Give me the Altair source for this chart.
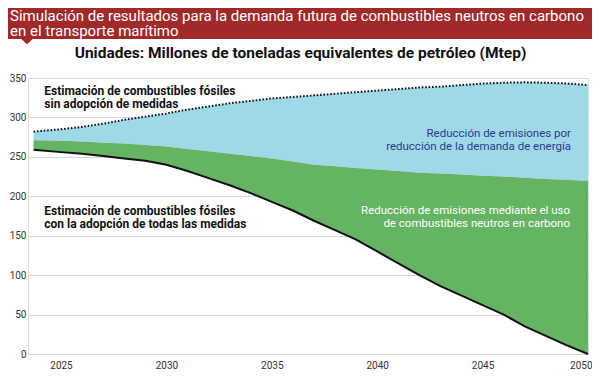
import altair as alt
import pandas as pd

# ---- data ----
years = [2023.7, 2025, 2026, 2027, 2028, 2029, 2030, 2031, 2032, 2033, 2034, 2035,
         2036, 2037, 2038, 2039, 2040, 2041, 2042, 2043, 2044, 2045, 2046, 2047,
         2048, 2049, 2050]
sin_medidas = [282, 285, 288, 292, 297, 301, 305, 310, 314, 318, 321, 324,
               326, 328, 330, 332, 334, 336, 338, 339, 341, 343, 344, 344.5,
               344, 343, 341]
limite_demanda = [271, 270.5, 269.5, 268, 267, 265, 263, 260, 257, 254, 251, 248,
                  244, 240, 238, 236, 234, 232, 230, 229, 227.5, 226, 225, 223.5,
                  222, 221, 219.5]
todas_medidas = [259, 256, 254, 251, 248, 245, 240, 232, 223, 214, 204, 193,
                 182, 169, 157, 145, 130, 115, 100, 86, 74, 62, 50, 35,
                 23, 11, 0]

y_ticks = [0, 50, 100, 150, 200, 250, 300, 350]
x_ticks = [2025, 2030, 2035, 2040, 2045, 2050]

header_1 = "Simulación de resultados para la demanda futura de combustibles neutros en carbono"
header_2 = "en el transporte marítimo"
subtitle = "Unidades: Millones de toneladas equivalentes de petróleo (Mtep)"
ann_top = ["Estimación de combustibles fósiles", "sin adopción de medidas"]
ann_bottom = ["Estimación de combustibles fósiles", "con la adopción de todas las medidas"]
ann_blue = ["Reducción de emisiones por", "reducción de la demanda de energía"]
ann_green = ["Reducción de emisiones mediante el uso", "de combustibles neutros en carbono"]

df = pd.DataFrame({
    "year": years,
    "sin": sin_medidas,
    "dem": limite_demanda,
    "todas": todas_medidas,
})
one = pd.DataFrame({"k": [0]})

FONT = "Roboto"
W, H = 560, 276

xs = alt.Scale(domain=[2023.435, 2050], nice=False, zero=False)
ys = alt.Scale(domain=[0, 350], nice=False, zero=True)

x_axis = alt.Axis(values=x_ticks, format="d", title=None, grid=False,
                  domain=False, ticks=False, labelPadding=6,
                  labelFlush=True, labelFlushOffset=4, labelOverlap=False,
                  labelFontSize=10, labelFont=FONT, labelColor="#333333")
y_axis = alt.Axis(values=y_ticks, tickCount=8, title=None, grid=True,
                  gridColor="#d6d6d6", domain=False, ticks=False, labelPadding=2,
                  labelFontSize=10, labelOverlap=False, labelFlush=False,
                  labelFont=FONT, labelColor="#333333")


def X():
    return alt.X("year:Q", scale=xs, axis=x_axis)


def Y(field):
    return alt.Y(field, type="quantitative", scale=ys, axis=y_axis)


base = alt.Chart(df)

blue = base.mark_area(color="#9fd9e8", opacity=1).encode(
    x=X(), y=Y("sin"), y2="dem:Q")
green = base.mark_area(color="#64b463", opacity=1).encode(
    x=X(), y=Y("dem"), y2="todas:Q")
dotted = base.mark_line(color="#111111", strokeWidth=2, strokeDash=[1.6, 1.8]).encode(
    x=X(), y=Y("sin"))
solid = base.mark_line(color="#111111", strokeWidth=2).encode(
    x=X(), y=Y("todas"))


def txt(s, x, y, size=11, weight="normal", color="#111111", align="left"):
    return alt.Chart(one).mark_text(
        text=s, font=FONT, fontSize=size, fontWeight=weight, color=color,
        align=align, baseline="middle").encode(x=alt.value(x), y=alt.value(y))


band = alt.Chart(one).mark_rect(color="#a2292a").encode(
    x=alt.value(-20), x2=alt.value(566), y=alt.value(-70), y2=alt.value(-39))
notch = alt.Chart(one).mark_point(
    shape="M-1,0L1,0L0,0.9Z", filled=True, color="#a2292a", opacity=1, size=160,
    strokeWidth=0).encode(x=alt.value(-1), y=alt.value(-39.5))

layers = [blue, green, dotted, solid, band, notch,
          txt(header_1, -18, -62, size=15, color="#ffffff"),
          txt(header_2, -18, -47, size=15, color="#ffffff"),
          txt(subtitle, 272.5, -25, size=15.5, weight="bold", align="center"),
          txt(ann_top[0], 16.3, 13, size=12, weight="bold"),
          txt(ann_top[1], 16.3, 26, size=12, weight="bold"),
          txt(ann_bottom[0], 16.3, 132.5, size=12, weight="bold"),
          txt(ann_bottom[1], 16.3, 145.5, size=12, weight="bold"),
          txt(ann_blue[0], 543, 55.5, size=11.5, color="#2b3a8c", align="right"),
          txt(ann_blue[1], 543, 68.5, size=11.5, color="#2b3a8c", align="right"),
          txt(ann_green[0], 542, 132.5, size=11.5, color="#ffffff", align="right"),
          txt(ann_green[1], 542, 145.5, size=11.5, color="#ffffff", align="right"),
          ]

chart = alt.layer(*layers).properties(
    width=W, height=H,
    autosize=alt.AutoSizeParams(type="none"),
    padding={"left": 20, "top": 70, "right": 4, "bottom": 18},
).configure_view(stroke=None).configure(background="#ffffff")

chart.save("out.html", embed_options={"renderer": "svg", "actions": False})
